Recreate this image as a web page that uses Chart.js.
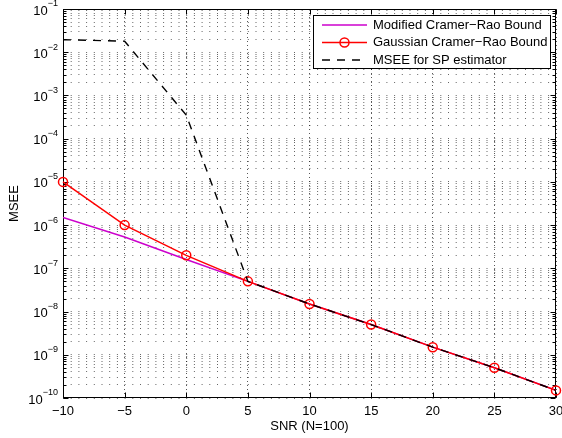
<!DOCTYPE html>
<html>
<head>
<meta charset="utf-8">
<script src="https://cdn.jsdelivr.net/npm/chart.js@4/dist/chart.umd.min.js"></script>
<style>
  html, body { margin: 0; padding: 0; background: #fff; }
  canvas { display: block; }
</style>
</head>
<body>
<canvas id="mseeCanvas" width="562" height="438"></canvas>
<script>
const snr = [-10, -5, 0, 5, 10, 15, 20, 25, 30];
const modifiedCRB = [1.5e-6, 5.3e-7, 1.6e-7, 5e-8, 1.5e-8, 5e-9, 1.5e-9, 5e-10, 1.5e-10];
const gaussianCRB = [1e-5, 1e-6, 2e-7, 5e-8, 1.5e-8, 5e-9, 1.5e-9, 5e-10, 1.5e-10];
const mseeSP = [1.95e-2, 1.8e-2, 3.5e-4, 5e-8, 1.5e-8, 5e-9, 1.5e-9, 5e-10, 1.5e-10];

const xTicks = [-10, -5, 0, 5, 10, 15, 20, 25, 30];
const yExponents = [-10, -9, -8, -7, -6, -5, -4, -3, -2, -1];
const seriesNames = ["Modified Cramer\u2212Rao Bound", "Gaussian Cramer\u2212Rao Bound", "MSEE for SP estimator"];
const xTitle = "SNR (N=100)";
const yTitle = "MSEE";

const fontFamily = "'Liberation Sans', Arial, Helvetica, sans-serif";
const toPoints = ys => snr.map((x, i) => ({ x: x, y: ys[i] }));

// 1..9 x 10^n in every decade, for the dotted log grid and the inner ticks
const yGrid = [];
yExponents.forEach(e => {
    if (e === -1) { yGrid.push(Math.pow(10, e)); return; }
    for (let k = 1; k <= 9; k++) yGrid.push(k * Math.pow(10, e));
});

const matlabAxes = {
    id: "matlabAxes",
    beforeDatasetsDraw(chart) {
        const { ctx, chartArea: a, scales: { x, y } } = chart;
        const L = Math.round(a.left) + 0.5, R = Math.round(a.right) - 0.5;
        const T = Math.round(a.top) + 0.5, B = Math.round(a.bottom) - 0.5;
        ctx.save();
        ctx.strokeStyle = "#000";
        ctx.lineWidth = 1;
        ctx.strokeRect(L, T, R - L, B - T);
        ctx.beginPath();
        xTicks.forEach(v => {
            const px = Math.round(x.getPixelForValue(v)) + 0.5;
            ctx.moveTo(px, B); ctx.lineTo(px, B - 5);
            ctx.moveTo(px, T); ctx.lineTo(px, T + 5);
        });
        yGrid.forEach((v, i) => {
            const py = Math.round(y.getPixelForValue(v)) + 0.5;
            const len = (i % 9 === 0) ? 5 : 3;
            ctx.moveTo(L, py); ctx.lineTo(L + len, py);
            ctx.moveTo(R, py); ctx.lineTo(R - len, py);
        });
        ctx.stroke();

        // y tick labels as 10 with a raised exponent
        ctx.fillStyle = "#000";
        ctx.textBaseline = "middle";
        ctx.textAlign = "left";
        const right = a.left - 5;
        yExponents.forEach(e => {
            const py = y.getPixelForValue(Math.pow(10, e));
            const exp = "\u2212" + Math.abs(e);
            ctx.font = "9px " + fontFamily;
            const we = ctx.measureText(exp).width;
            ctx.font = "13px " + fontFamily;
            const wb = ctx.measureText("10").width;
            ctx.fillText("10", right - we - wb, py + 2);
            ctx.font = "9px " + fontFamily;
            ctx.fillText(exp, right - we, py - 5);
        });
        ctx.restore();
    },
    afterDatasetsDraw(chart) {
        const { ctx } = chart;
        const box = { left: 313.5, top: 15.5, width: 237, height: 53 };
        ctx.save();
        ctx.fillStyle = "#fff";
        ctx.fillRect(box.left, box.top, box.width, box.height);
        ctx.strokeStyle = "#000";
        ctx.lineWidth = 1;
        ctx.strokeRect(box.left, box.top, box.width, box.height);
        ctx.font = "13px " + fontFamily;
        ctx.textBaseline = "middle";
        chart.data.datasets.forEach((ds, i) => {
            const ly = 25 + i * 17.5;
            ctx.strokeStyle = ds.borderColor;
            ctx.lineWidth = ds.borderWidth;
            ctx.setLineDash(ds.borderDash || []);
            ctx.beginPath();
            ctx.moveTo(322, ly); ctx.lineTo(367, ly);
            ctx.stroke();
            ctx.setLineDash([]);
            if (ds.pointRadius > 0) {
                ctx.beginPath();
                ctx.arc(344.5, ly, ds.pointRadius, 0, Math.PI * 2);
                ctx.stroke();
            }
            ctx.fillStyle = "#000";
            ctx.fillText(ds.label, 373, ly);
        });
        ctx.restore();
    }
};

const mseeChart = new Chart(document.getElementById("mseeCanvas"), {
    type: "line",
    data: {
        datasets: [{
            label: seriesNames[0],
            data: toPoints(modifiedCRB),
            borderColor: "#cc00cc",
            borderWidth: 1.5,
            pointRadius: 0,
            order: 3
        }, {
            label: seriesNames[1],
            data: toPoints(gaussianCRB),
            borderColor: "#ff0000",
            borderWidth: 1.5,
            pointRadius: 4.5,
            pointBorderWidth: 1.5,
            pointBorderColor: "#ff0000",
            pointBackgroundColor: "rgba(0,0,0,0)",
            clip: false,
            order: 2
        }, {
            label: seriesNames[2],
            data: toPoints(mseeSP),
            borderColor: "#000000",
            borderWidth: 1.4,
            borderDash: [8, 7],
            pointRadius: 0,
            order: 1
        }]
    },
    options: {
        responsive: false,
        animation: false,
        layout: { padding: { top: 9, right: 5, left: 0, bottom: 0 } },
        plugins: { legend: { display: false }, tooltip: { enabled: false } },
        scales: {
            x: {
                type: "linear",
                min: -10,
                max: 30,
                afterBuildTicks: s => { s.ticks = xTicks.map(v => ({ value: v })); },
                afterFit: s => { s.height = 40; s.paddingLeft = 0; s.paddingRight = 0; },
                ticks: {
                    color: "#000",
                    padding: 6,
                    maxRotation: 0,
                    font: { family: fontFamily, size: 13 },
                    callback: v => String(v).replace("-", "\u2212")
                },
                grid: { color: "rgba(0,0,0,0.65)", lineWidth: 1, drawTicks: false },
                border: { display: false, dash: [1, 3] },
                title: {
                    display: true,
                    text: xTitle,
                    color: "#000",
                    font: { family: fontFamily, size: 13 },
                    padding: { top: 0, bottom: 4 }
                }
            },
            y: {
                type: "logarithmic",
                min: 1e-10,
                max: 1e-1,
                afterBuildTicks: s => { s.ticks = yGrid.map(v => ({ value: v })); },
                afterFit: s => { s.width = 63; s.paddingTop = 0; s.paddingBottom = 0; },
                ticks: { display: false },
                grid: { color: "rgba(0,0,0,0.6)", lineWidth: 1, drawTicks: false },
                border: { display: false, dash: [1, 6.7] },
                title: {
                    display: true,
                    text: yTitle,
                    color: "#000",
                    font: { family: fontFamily, size: 13 },
                    padding: { top: 7, bottom: 0 }
                }
            }
        }
    },
    plugins: [matlabAxes]
});
</script>
</body>
</html>
